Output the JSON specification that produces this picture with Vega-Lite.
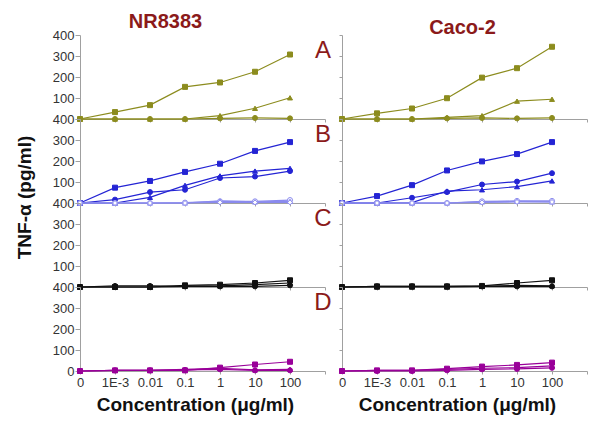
{
"$schema":"https://vega.github.io/schema/vega-lite/v6.json",
"padding":{"left":15,"top":12,"right":5,"bottom":5},
"background":"white",
"config":{"font":"Liberation Sans","view":{"stroke":null},
"axis":{"labelFont":"Liberation Sans","labelFontSize":13,"labelColor":"#333333","domainColor":"#a0a0a0","tickColor":"#a0a0a0","grid":false,"titleFont":"Liberation Sans","titleFontSize":19,"titleFontWeight":"bold","titleColor":"#111111","labelFlush":false,"labelOverlap":false}},
"data":{"values":[
{"cell":"NR8383","panel":"A","series":"1","i":0,"v":0},{"cell":"NR8383","panel":"A","series":"1","i":1,"v":33},{"cell":"NR8383","panel":"A","series":"1","i":2,"v":66},{"cell":"NR8383","panel":"A","series":"1","i":3,"v":153},{"cell":"NR8383","panel":"A","series":"1","i":4,"v":174},{"cell":"NR8383","panel":"A","series":"1","i":5,"v":225},{"cell":"NR8383","panel":"A","series":"1","i":6,"v":307},
{"cell":"NR8383","panel":"A","series":"2","i":0,"v":0},{"cell":"NR8383","panel":"A","series":"2","i":1,"v":0},{"cell":"NR8383","panel":"A","series":"2","i":2,"v":0},{"cell":"NR8383","panel":"A","series":"2","i":3,"v":0},{"cell":"NR8383","panel":"A","series":"2","i":4,"v":16},{"cell":"NR8383","panel":"A","series":"2","i":5,"v":51},{"cell":"NR8383","panel":"A","series":"2","i":6,"v":101},
{"cell":"NR8383","panel":"A","series":"3","i":0,"v":0},{"cell":"NR8383","panel":"A","series":"3","i":1,"v":0},{"cell":"NR8383","panel":"A","series":"3","i":2,"v":0},{"cell":"NR8383","panel":"A","series":"3","i":3,"v":0},{"cell":"NR8383","panel":"A","series":"3","i":4,"v":3},{"cell":"NR8383","panel":"A","series":"3","i":5,"v":5},{"cell":"NR8383","panel":"A","series":"3","i":6,"v":3},
{"cell":"NR8383","panel":"B","series":"1","i":0,"v":0},{"cell":"NR8383","panel":"B","series":"1","i":1,"v":73},{"cell":"NR8383","panel":"B","series":"1","i":2,"v":105},{"cell":"NR8383","panel":"B","series":"1","i":3,"v":148},{"cell":"NR8383","panel":"B","series":"1","i":4,"v":187},{"cell":"NR8383","panel":"B","series":"1","i":5,"v":248},{"cell":"NR8383","panel":"B","series":"1","i":6,"v":290},
{"cell":"NR8383","panel":"B","series":"2","i":0,"v":0},{"cell":"NR8383","panel":"B","series":"2","i":1,"v":0},{"cell":"NR8383","panel":"B","series":"2","i":2,"v":27},{"cell":"NR8383","panel":"B","series":"2","i":3,"v":84},{"cell":"NR8383","panel":"B","series":"2","i":4,"v":129},{"cell":"NR8383","panel":"B","series":"2","i":5,"v":152},{"cell":"NR8383","panel":"B","series":"2","i":6,"v":165},
{"cell":"NR8383","panel":"B","series":"3","i":0,"v":0},{"cell":"NR8383","panel":"B","series":"3","i":1,"v":16},{"cell":"NR8383","panel":"B","series":"3","i":2,"v":52},{"cell":"NR8383","panel":"B","series":"3","i":3,"v":63},{"cell":"NR8383","panel":"B","series":"3","i":4,"v":119},{"cell":"NR8383","panel":"B","series":"3","i":5,"v":126},{"cell":"NR8383","panel":"B","series":"3","i":6,"v":152},
{"cell":"NR8383","panel":"B","series":"4","i":0,"v":0},{"cell":"NR8383","panel":"B","series":"4","i":1,"v":0},{"cell":"NR8383","panel":"B","series":"4","i":2,"v":0},{"cell":"NR8383","panel":"B","series":"4","i":3,"v":2},{"cell":"NR8383","panel":"B","series":"4","i":4,"v":8},{"cell":"NR8383","panel":"B","series":"4","i":5,"v":8},{"cell":"NR8383","panel":"B","series":"4","i":6,"v":14},
{"cell":"NR8383","panel":"B","series":"5","i":0,"v":0},{"cell":"NR8383","panel":"B","series":"5","i":1,"v":0},{"cell":"NR8383","panel":"B","series":"5","i":2,"v":0},{"cell":"NR8383","panel":"B","series":"5","i":3,"v":0},{"cell":"NR8383","panel":"B","series":"5","i":4,"v":10},{"cell":"NR8383","panel":"B","series":"5","i":5,"v":5},{"cell":"NR8383","panel":"B","series":"5","i":6,"v":8},
{"cell":"NR8383","panel":"B","series":"6","i":0,"v":0},{"cell":"NR8383","panel":"B","series":"6","i":1,"v":0},{"cell":"NR8383","panel":"B","series":"6","i":2,"v":0},{"cell":"NR8383","panel":"B","series":"6","i":3,"v":0},{"cell":"NR8383","panel":"B","series":"6","i":4,"v":3},{"cell":"NR8383","panel":"B","series":"6","i":5,"v":3},{"cell":"NR8383","panel":"B","series":"6","i":6,"v":3},
{"cell":"NR8383","panel":"C","series":"1","i":0,"v":0},{"cell":"NR8383","panel":"C","series":"1","i":1,"v":0},{"cell":"NR8383","panel":"C","series":"1","i":2,"v":0},{"cell":"NR8383","panel":"C","series":"1","i":3,"v":8},{"cell":"NR8383","panel":"C","series":"1","i":4,"v":11},{"cell":"NR8383","panel":"C","series":"1","i":5,"v":19},{"cell":"NR8383","panel":"C","series":"1","i":6,"v":32},
{"cell":"NR8383","panel":"C","series":"2","i":0,"v":0},{"cell":"NR8383","panel":"C","series":"2","i":1,"v":0},{"cell":"NR8383","panel":"C","series":"2","i":2,"v":0},{"cell":"NR8383","panel":"C","series":"2","i":3,"v":3},{"cell":"NR8383","panel":"C","series":"2","i":4,"v":5},{"cell":"NR8383","panel":"C","series":"2","i":5,"v":11},{"cell":"NR8383","panel":"C","series":"2","i":6,"v":19},
{"cell":"NR8383","panel":"C","series":"3","i":0,"v":0},{"cell":"NR8383","panel":"C","series":"3","i":1,"v":5},{"cell":"NR8383","panel":"C","series":"3","i":2,"v":5},{"cell":"NR8383","panel":"C","series":"3","i":3,"v":3},{"cell":"NR8383","panel":"C","series":"3","i":4,"v":3},{"cell":"NR8383","panel":"C","series":"3","i":5,"v":3},{"cell":"NR8383","panel":"C","series":"3","i":6,"v":8},
{"cell":"NR8383","panel":"D","series":"1","i":0,"v":0},{"cell":"NR8383","panel":"D","series":"1","i":1,"v":3},{"cell":"NR8383","panel":"D","series":"1","i":2,"v":3},{"cell":"NR8383","panel":"D","series":"1","i":3,"v":3},{"cell":"NR8383","panel":"D","series":"1","i":4,"v":16},{"cell":"NR8383","panel":"D","series":"1","i":5,"v":31},{"cell":"NR8383","panel":"D","series":"1","i":6,"v":44},
{"cell":"NR8383","panel":"D","series":"2","i":0,"v":0},{"cell":"NR8383","panel":"D","series":"2","i":1,"v":3},{"cell":"NR8383","panel":"D","series":"2","i":2,"v":3},{"cell":"NR8383","panel":"D","series":"2","i":3,"v":8},{"cell":"NR8383","panel":"D","series":"2","i":4,"v":13},{"cell":"NR8383","panel":"D","series":"2","i":5,"v":5},{"cell":"NR8383","panel":"D","series":"2","i":6,"v":8},
{"cell":"NR8383","panel":"D","series":"3","i":0,"v":0},{"cell":"NR8383","panel":"D","series":"3","i":1,"v":3},{"cell":"NR8383","panel":"D","series":"3","i":2,"v":3},{"cell":"NR8383","panel":"D","series":"3","i":3,"v":5},{"cell":"NR8383","panel":"D","series":"3","i":4,"v":8},{"cell":"NR8383","panel":"D","series":"3","i":5,"v":3},{"cell":"NR8383","panel":"D","series":"3","i":6,"v":3},
{"cell":"Caco-2","panel":"A","series":"1","i":0,"v":0},{"cell":"Caco-2","panel":"A","series":"1","i":1,"v":27},{"cell":"Caco-2","panel":"A","series":"1","i":2,"v":50},{"cell":"Caco-2","panel":"A","series":"1","i":3,"v":99},{"cell":"Caco-2","panel":"A","series":"1","i":4,"v":197},{"cell":"Caco-2","panel":"A","series":"1","i":5,"v":242},{"cell":"Caco-2","panel":"A","series":"1","i":6,"v":344},
{"cell":"Caco-2","panel":"A","series":"2","i":0,"v":0},{"cell":"Caco-2","panel":"A","series":"2","i":1,"v":0},{"cell":"Caco-2","panel":"A","series":"2","i":2,"v":0},{"cell":"Caco-2","panel":"A","series":"2","i":3,"v":8},{"cell":"Caco-2","panel":"A","series":"2","i":4,"v":16},{"cell":"Caco-2","panel":"A","series":"2","i":5,"v":85},{"cell":"Caco-2","panel":"A","series":"2","i":6,"v":94},
{"cell":"Caco-2","panel":"A","series":"3","i":0,"v":0},{"cell":"Caco-2","panel":"A","series":"3","i":1,"v":0},{"cell":"Caco-2","panel":"A","series":"3","i":2,"v":0},{"cell":"Caco-2","panel":"A","series":"3","i":3,"v":3},{"cell":"Caco-2","panel":"A","series":"3","i":4,"v":5},{"cell":"Caco-2","panel":"A","series":"3","i":5,"v":3},{"cell":"Caco-2","panel":"A","series":"3","i":6,"v":5},
{"cell":"Caco-2","panel":"B","series":"1","i":0,"v":0},{"cell":"Caco-2","panel":"B","series":"1","i":1,"v":33},{"cell":"Caco-2","panel":"B","series":"1","i":2,"v":85},{"cell":"Caco-2","panel":"B","series":"1","i":3,"v":155},{"cell":"Caco-2","panel":"B","series":"1","i":4,"v":198},{"cell":"Caco-2","panel":"B","series":"1","i":5,"v":233},{"cell":"Caco-2","panel":"B","series":"1","i":6,"v":290},
{"cell":"Caco-2","panel":"B","series":"2","i":0,"v":0},{"cell":"Caco-2","panel":"B","series":"2","i":1,"v":0},{"cell":"Caco-2","panel":"B","series":"2","i":2,"v":2},{"cell":"Caco-2","panel":"B","series":"2","i":3,"v":57},{"cell":"Caco-2","panel":"B","series":"2","i":4,"v":63},{"cell":"Caco-2","panel":"B","series":"2","i":5,"v":78},{"cell":"Caco-2","panel":"B","series":"2","i":6,"v":105},
{"cell":"Caco-2","panel":"B","series":"3","i":0,"v":0},{"cell":"Caco-2","panel":"B","series":"3","i":1,"v":0},{"cell":"Caco-2","panel":"B","series":"3","i":2,"v":25},{"cell":"Caco-2","panel":"B","series":"3","i":3,"v":52},{"cell":"Caco-2","panel":"B","series":"3","i":4,"v":88},{"cell":"Caco-2","panel":"B","series":"3","i":5,"v":102},{"cell":"Caco-2","panel":"B","series":"3","i":6,"v":142},
{"cell":"Caco-2","panel":"B","series":"4","i":0,"v":0},{"cell":"Caco-2","panel":"B","series":"4","i":1,"v":0},{"cell":"Caco-2","panel":"B","series":"4","i":2,"v":0},{"cell":"Caco-2","panel":"B","series":"4","i":3,"v":0},{"cell":"Caco-2","panel":"B","series":"4","i":4,"v":8},{"cell":"Caco-2","panel":"B","series":"4","i":5,"v":10},{"cell":"Caco-2","panel":"B","series":"4","i":6,"v":10},
{"cell":"Caco-2","panel":"B","series":"5","i":0,"v":0},{"cell":"Caco-2","panel":"B","series":"5","i":1,"v":0},{"cell":"Caco-2","panel":"B","series":"5","i":2,"v":0},{"cell":"Caco-2","panel":"B","series":"5","i":3,"v":0},{"cell":"Caco-2","panel":"B","series":"5","i":4,"v":5},{"cell":"Caco-2","panel":"B","series":"5","i":5,"v":8},{"cell":"Caco-2","panel":"B","series":"5","i":6,"v":5},
{"cell":"Caco-2","panel":"B","series":"6","i":0,"v":0},{"cell":"Caco-2","panel":"B","series":"6","i":1,"v":0},{"cell":"Caco-2","panel":"B","series":"6","i":2,"v":0},{"cell":"Caco-2","panel":"B","series":"6","i":3,"v":0},{"cell":"Caco-2","panel":"B","series":"6","i":4,"v":3},{"cell":"Caco-2","panel":"B","series":"6","i":5,"v":5},{"cell":"Caco-2","panel":"B","series":"6","i":6,"v":5},
{"cell":"Caco-2","panel":"C","series":"1","i":0,"v":0},{"cell":"Caco-2","panel":"C","series":"1","i":1,"v":3},{"cell":"Caco-2","panel":"C","series":"1","i":2,"v":3},{"cell":"Caco-2","panel":"C","series":"1","i":3,"v":3},{"cell":"Caco-2","panel":"C","series":"1","i":4,"v":5},{"cell":"Caco-2","panel":"C","series":"1","i":5,"v":19},{"cell":"Caco-2","panel":"C","series":"1","i":6,"v":32},
{"cell":"Caco-2","panel":"C","series":"2","i":0,"v":0},{"cell":"Caco-2","panel":"C","series":"2","i":1,"v":0},{"cell":"Caco-2","panel":"C","series":"2","i":2,"v":0},{"cell":"Caco-2","panel":"C","series":"2","i":3,"v":0},{"cell":"Caco-2","panel":"C","series":"2","i":4,"v":3},{"cell":"Caco-2","panel":"C","series":"2","i":5,"v":8},{"cell":"Caco-2","panel":"C","series":"2","i":6,"v":6},
{"cell":"Caco-2","panel":"C","series":"3","i":0,"v":0},{"cell":"Caco-2","panel":"C","series":"3","i":1,"v":3},{"cell":"Caco-2","panel":"C","series":"3","i":2,"v":3},{"cell":"Caco-2","panel":"C","series":"3","i":3,"v":3},{"cell":"Caco-2","panel":"C","series":"3","i":4,"v":3},{"cell":"Caco-2","panel":"C","series":"3","i":5,"v":3},{"cell":"Caco-2","panel":"C","series":"3","i":6,"v":3},
{"cell":"Caco-2","panel":"D","series":"1","i":0,"v":0},{"cell":"Caco-2","panel":"D","series":"1","i":1,"v":3},{"cell":"Caco-2","panel":"D","series":"1","i":2,"v":3},{"cell":"Caco-2","panel":"D","series":"1","i":3,"v":11},{"cell":"Caco-2","panel":"D","series":"1","i":4,"v":21},{"cell":"Caco-2","panel":"D","series":"1","i":5,"v":29},{"cell":"Caco-2","panel":"D","series":"1","i":6,"v":40},
{"cell":"Caco-2","panel":"D","series":"2","i":0,"v":0},{"cell":"Caco-2","panel":"D","series":"2","i":1,"v":3},{"cell":"Caco-2","panel":"D","series":"2","i":2,"v":3},{"cell":"Caco-2","panel":"D","series":"2","i":3,"v":8},{"cell":"Caco-2","panel":"D","series":"2","i":4,"v":13},{"cell":"Caco-2","panel":"D","series":"2","i":5,"v":16},{"cell":"Caco-2","panel":"D","series":"2","i":6,"v":24},
{"cell":"Caco-2","panel":"D","series":"3","i":0,"v":0},{"cell":"Caco-2","panel":"D","series":"3","i":1,"v":0},{"cell":"Caco-2","panel":"D","series":"3","i":2,"v":0},{"cell":"Caco-2","panel":"D","series":"3","i":3,"v":3},{"cell":"Caco-2","panel":"D","series":"3","i":4,"v":8},{"cell":"Caco-2","panel":"D","series":"3","i":5,"v":10},{"cell":"Caco-2","panel":"D","series":"3","i":6,"v":15}
]},
"transform":[{"calculate":"datum.panel+datum.series","as":"key"}],
"spacing":5,
"hconcat":[
{"title":{"text":"NR8383","fontSize":20,"fontWeight":"bold","color":"#8b1a1a","anchor":"middle","dx":-8,"offset":-3},
 "bounds":"flush","spacing":0,
 "vconcat":[
  {"width":245,"height":84,"transform":[{"filter":"datum.cell==='NR8383' && datum.panel==='A'"}],
   "layer":[
    {"mark":{"type":"line","strokeWidth":1.2},"encoding":{"x":{"field":"i","type":"quantitative","scale":{"domain":[0,7],"nice":false,"zero":false},"axis":{"values":[0,1,2,3,4,5,6,7],"tickCount":10,"labelOverlap":false,"tickSize":3,"labels":false,"title":null}},"y":{"field":"v","type":"quantitative","scale":{"domain":[0,400],"nice":false},"axis":{"values":[0,100,200,300,400],"tickCount":10,"labelOverlap":false,"tickSize":5,"labelPadding":1,"title":null,"labelExpr":"datum.value==0 ? '' : datum.label"}},"color":{"field":"key","type":"nominal","legend":null,"scale":{"domain":["A1","A2","A3","B1","B2","B3","B4","B5","B6","C1","C2","C3","D1","D2","D3"],"range":["#8c8c1e","#8c8c1e","#8c8c1e","#2424d4","#2424d4","#2424d4","#8a8aee","#8a8aee","#8a8aee","#111111","#111111","#111111","#990099","#990099","#990099"]}}}},
    {"mark":{"type":"point","size":25,"opacity":1,"strokeWidth":1},"encoding":{"x":{"field":"i","type":"quantitative"},"y":{"field":"v","type":"quantitative"},"shape":{"field":"series","type":"nominal","legend":null,"scale":{"domain":["1","2","3","4","5","6"],"range":["square","triangle-up","circle","circle","triangle-up","diamond"]}},"fill":{"field":"key","type":"nominal","legend":null,"scale":{"domain":["A1","A2","A3","B1","B2","B3","B4","B5","B6","C1","C2","C3","D1","D2","D3"],"range":["#8c8c1e","#8c8c1e","#8c8c1e","#2424d4","#2424d4","#2424d4","#ffffff","#ffffff","#ffffff","#111111","#111111","#111111","#990099","#990099","#990099"]}},"stroke":{"field":"key","type":"nominal","legend":null,"scale":{"domain":["A1","A2","A3","B1","B2","B3","B4","B5","B6","C1","C2","C3","D1","D2","D3"],"range":["#8c8c1e","#8c8c1e","#8c8c1e","#2424d4","#2424d4","#2424d4","#8a8aee","#8a8aee","#8a8aee","#111111","#111111","#111111","#990099","#990099","#990099"]}}}},
    {"transform":[{"aggregate":[{"op":"count","as":"n"}],"groupby":["panel"]}],"mark":{"type":"text","fontSize":24,"color":"#8b1a1a","align":"center","baseline":"middle","font":"Liberation Sans"},"encoding":{"x":{"datum":6.94},"y":{"datum":325},"text":{"field":"panel"}}}
   ]},
  {"width":245,"height":84,"transform":[{"filter":"datum.cell==='NR8383' && datum.panel==='B'"}],
   "layer":[
    {"mark":{"type":"line","strokeWidth":1.2},"encoding":{"x":{"field":"i","type":"quantitative","scale":{"domain":[0,7],"nice":false,"zero":false},"axis":{"values":[0,1,2,3,4,5,6,7],"tickCount":10,"labelOverlap":false,"tickSize":3,"labels":false,"title":null}},"y":{"field":"v","type":"quantitative","scale":{"domain":[0,400],"nice":false},"axis":{"values":[0,100,200,300,400],"tickCount":10,"labelOverlap":false,"tickSize":5,"labelPadding":1,"labelExpr":"datum.value==0 ? '' : datum.label","title":"TNF-α (pg/ml)","titleY":78,"titlePadding":18}},"color":{"field":"key","type":"nominal","legend":null,"scale":{"domain":["A1","A2","A3","B1","B2","B3","B4","B5","B6","C1","C2","C3","D1","D2","D3"],"range":["#8c8c1e","#8c8c1e","#8c8c1e","#2424d4","#2424d4","#2424d4","#8a8aee","#8a8aee","#8a8aee","#111111","#111111","#111111","#990099","#990099","#990099"]}}}},
    {"mark":{"type":"point","size":25,"opacity":1,"strokeWidth":1},"encoding":{"x":{"field":"i","type":"quantitative"},"y":{"field":"v","type":"quantitative"},"shape":{"field":"series","type":"nominal","legend":null,"scale":{"domain":["1","2","3","4","5","6"],"range":["square","triangle-up","circle","circle","triangle-up","diamond"]}},"fill":{"field":"key","type":"nominal","legend":null,"scale":{"domain":["A1","A2","A3","B1","B2","B3","B4","B5","B6","C1","C2","C3","D1","D2","D3"],"range":["#8c8c1e","#8c8c1e","#8c8c1e","#2424d4","#2424d4","#2424d4","#ffffff","#ffffff","#ffffff","#111111","#111111","#111111","#990099","#990099","#990099"]}},"stroke":{"field":"key","type":"nominal","legend":null,"scale":{"domain":["A1","A2","A3","B1","B2","B3","B4","B5","B6","C1","C2","C3","D1","D2","D3"],"range":["#8c8c1e","#8c8c1e","#8c8c1e","#2424d4","#2424d4","#2424d4","#8a8aee","#8a8aee","#8a8aee","#111111","#111111","#111111","#990099","#990099","#990099"]}}}},
    {"transform":[{"aggregate":[{"op":"count","as":"n"}],"groupby":["panel"]}],"mark":{"type":"text","fontSize":24,"color":"#8b1a1a","align":"center","baseline":"middle","font":"Liberation Sans"},"encoding":{"x":{"datum":6.94},"y":{"datum":325},"text":{"field":"panel"}}}
   ]},
  {"width":245,"height":84,"transform":[{"filter":"datum.cell==='NR8383' && datum.panel==='C'"}],
   "layer":[
    {"mark":{"type":"line","strokeWidth":1.2},"encoding":{"x":{"field":"i","type":"quantitative","scale":{"domain":[0,7],"nice":false,"zero":false},"axis":{"values":[0,1,2,3,4,5,6,7],"tickCount":10,"labelOverlap":false,"tickSize":3,"labels":false,"title":null}},"y":{"field":"v","type":"quantitative","scale":{"domain":[0,400],"nice":false},"axis":{"values":[0,100,200,300,400],"tickCount":10,"labelOverlap":false,"tickSize":5,"labelPadding":1,"title":null,"labelExpr":"datum.value==0 ? '' : datum.label"}},"color":{"field":"key","type":"nominal","legend":null,"scale":{"domain":["A1","A2","A3","B1","B2","B3","B4","B5","B6","C1","C2","C3","D1","D2","D3"],"range":["#8c8c1e","#8c8c1e","#8c8c1e","#2424d4","#2424d4","#2424d4","#8a8aee","#8a8aee","#8a8aee","#111111","#111111","#111111","#990099","#990099","#990099"]}}}},
    {"mark":{"type":"point","size":25,"opacity":1,"strokeWidth":1},"encoding":{"x":{"field":"i","type":"quantitative"},"y":{"field":"v","type":"quantitative"},"shape":{"field":"series","type":"nominal","legend":null,"scale":{"domain":["1","2","3","4","5","6"],"range":["square","triangle-up","circle","circle","triangle-up","diamond"]}},"fill":{"field":"key","type":"nominal","legend":null,"scale":{"domain":["A1","A2","A3","B1","B2","B3","B4","B5","B6","C1","C2","C3","D1","D2","D3"],"range":["#8c8c1e","#8c8c1e","#8c8c1e","#2424d4","#2424d4","#2424d4","#ffffff","#ffffff","#ffffff","#111111","#111111","#111111","#990099","#990099","#990099"]}},"stroke":{"field":"key","type":"nominal","legend":null,"scale":{"domain":["A1","A2","A3","B1","B2","B3","B4","B5","B6","C1","C2","C3","D1","D2","D3"],"range":["#8c8c1e","#8c8c1e","#8c8c1e","#2424d4","#2424d4","#2424d4","#8a8aee","#8a8aee","#8a8aee","#111111","#111111","#111111","#990099","#990099","#990099"]}}}},
    {"transform":[{"aggregate":[{"op":"count","as":"n"}],"groupby":["panel"]}],"mark":{"type":"text","fontSize":24,"color":"#8b1a1a","align":"center","baseline":"middle","font":"Liberation Sans"},"encoding":{"x":{"datum":6.94},"y":{"datum":325},"text":{"field":"panel"}}}
   ]},
  {"width":245,"height":84,"transform":[{"filter":"datum.cell==='NR8383' && datum.panel==='D'"}],
   "layer":[
    {"mark":{"type":"line","strokeWidth":1.2},"encoding":{"x":{"field":"i","type":"quantitative","scale":{"domain":[0,7],"nice":false,"zero":false},"axis":{"values":[0,1,2,3,4,5,6,7],"tickCount":10,"labelOverlap":false,"tickSize":3,"labelPadding":2,"labelExpr":"['0','1E-3','0.01','0.1','1','10','100',''][datum.value]","title":"Concentration (μg/ml)","titleX":115,"titlePadding":6}},"y":{"field":"v","type":"quantitative","scale":{"domain":[0,400],"nice":false},"axis":{"values":[0,100,200,300,400],"tickCount":10,"labelOverlap":false,"tickSize":5,"labelPadding":1,"title":null}},"color":{"field":"key","type":"nominal","legend":null,"scale":{"domain":["A1","A2","A3","B1","B2","B3","B4","B5","B6","C1","C2","C3","D1","D2","D3"],"range":["#8c8c1e","#8c8c1e","#8c8c1e","#2424d4","#2424d4","#2424d4","#8a8aee","#8a8aee","#8a8aee","#111111","#111111","#111111","#990099","#990099","#990099"]}}}},
    {"mark":{"type":"point","size":25,"opacity":1,"strokeWidth":1},"encoding":{"x":{"field":"i","type":"quantitative"},"y":{"field":"v","type":"quantitative"},"shape":{"field":"series","type":"nominal","legend":null,"scale":{"domain":["1","2","3","4","5","6"],"range":["square","triangle-up","circle","circle","triangle-up","diamond"]}},"fill":{"field":"key","type":"nominal","legend":null,"scale":{"domain":["A1","A2","A3","B1","B2","B3","B4","B5","B6","C1","C2","C3","D1","D2","D3"],"range":["#8c8c1e","#8c8c1e","#8c8c1e","#2424d4","#2424d4","#2424d4","#ffffff","#ffffff","#ffffff","#111111","#111111","#111111","#990099","#990099","#990099"]}},"stroke":{"field":"key","type":"nominal","legend":null,"scale":{"domain":["A1","A2","A3","B1","B2","B3","B4","B5","B6","C1","C2","C3","D1","D2","D3"],"range":["#8c8c1e","#8c8c1e","#8c8c1e","#2424d4","#2424d4","#2424d4","#8a8aee","#8a8aee","#8a8aee","#111111","#111111","#111111","#990099","#990099","#990099"]}}}},
    {"transform":[{"aggregate":[{"op":"count","as":"n"}],"groupby":["panel"]}],"mark":{"type":"text","fontSize":24,"color":"#8b1a1a","align":"center","baseline":"middle","font":"Liberation Sans"},"encoding":{"x":{"datum":6.94},"y":{"datum":325},"text":{"field":"panel"}}}
   ]}
 ]},
{"title":{"text":"Caco-2","fontSize":20,"fontWeight":"bold","color":"#8b1a1a","anchor":"middle","offset":-3},
 "bounds":"flush","spacing":0,
 "vconcat":[
  {"width":245,"height":84,"transform":[{"filter":"datum.cell==='Caco-2' && datum.panel==='A'"}],
   "layer":[
    {"mark":{"type":"line","strokeWidth":1.2},"encoding":{"x":{"field":"i","type":"quantitative","scale":{"domain":[0,7],"nice":false,"zero":false},"axis":{"values":[0,1,2,3,4,5,6,7],"tickCount":10,"labelOverlap":false,"tickSize":3,"labels":false,"title":null}},"y":{"field":"v","type":"quantitative","scale":{"domain":[0,400],"nice":false},"axis":{"values":[0,100,200,300,400],"tickCount":10,"tickSize":3,"labels":false,"title":null}},"color":{"field":"key","type":"nominal","legend":null,"scale":{"domain":["A1","A2","A3","B1","B2","B3","B4","B5","B6","C1","C2","C3","D1","D2","D3"],"range":["#8c8c1e","#8c8c1e","#8c8c1e","#2424d4","#2424d4","#2424d4","#8a8aee","#8a8aee","#8a8aee","#111111","#111111","#111111","#990099","#990099","#990099"]}}}},
    {"mark":{"type":"point","size":25,"opacity":1,"strokeWidth":1},"encoding":{"x":{"field":"i","type":"quantitative"},"y":{"field":"v","type":"quantitative"},"shape":{"field":"series","type":"nominal","legend":null,"scale":{"domain":["1","2","3","4","5","6"],"range":["square","triangle-up","circle","circle","triangle-up","diamond"]}},"fill":{"field":"key","type":"nominal","legend":null,"scale":{"domain":["A1","A2","A3","B1","B2","B3","B4","B5","B6","C1","C2","C3","D1","D2","D3"],"range":["#8c8c1e","#8c8c1e","#8c8c1e","#2424d4","#2424d4","#2424d4","#ffffff","#ffffff","#ffffff","#111111","#111111","#111111","#990099","#990099","#990099"]}},"stroke":{"field":"key","type":"nominal","legend":null,"scale":{"domain":["A1","A2","A3","B1","B2","B3","B4","B5","B6","C1","C2","C3","D1","D2","D3"],"range":["#8c8c1e","#8c8c1e","#8c8c1e","#2424d4","#2424d4","#2424d4","#8a8aee","#8a8aee","#8a8aee","#111111","#111111","#111111","#990099","#990099","#990099"]}}}}
   ]},
  {"width":245,"height":84,"transform":[{"filter":"datum.cell==='Caco-2' && datum.panel==='B'"}],
   "layer":[
    {"mark":{"type":"line","strokeWidth":1.2},"encoding":{"x":{"field":"i","type":"quantitative","scale":{"domain":[0,7],"nice":false,"zero":false},"axis":{"values":[0,1,2,3,4,5,6,7],"tickCount":10,"labelOverlap":false,"tickSize":3,"labels":false,"title":null}},"y":{"field":"v","type":"quantitative","scale":{"domain":[0,400],"nice":false},"axis":{"values":[0,100,200,300,400],"tickCount":10,"tickSize":3,"labels":false,"title":null}},"color":{"field":"key","type":"nominal","legend":null,"scale":{"domain":["A1","A2","A3","B1","B2","B3","B4","B5","B6","C1","C2","C3","D1","D2","D3"],"range":["#8c8c1e","#8c8c1e","#8c8c1e","#2424d4","#2424d4","#2424d4","#8a8aee","#8a8aee","#8a8aee","#111111","#111111","#111111","#990099","#990099","#990099"]}}}},
    {"mark":{"type":"point","size":25,"opacity":1,"strokeWidth":1},"encoding":{"x":{"field":"i","type":"quantitative"},"y":{"field":"v","type":"quantitative"},"shape":{"field":"series","type":"nominal","legend":null,"scale":{"domain":["1","2","3","4","5","6"],"range":["square","triangle-up","circle","circle","triangle-up","diamond"]}},"fill":{"field":"key","type":"nominal","legend":null,"scale":{"domain":["A1","A2","A3","B1","B2","B3","B4","B5","B6","C1","C2","C3","D1","D2","D3"],"range":["#8c8c1e","#8c8c1e","#8c8c1e","#2424d4","#2424d4","#2424d4","#ffffff","#ffffff","#ffffff","#111111","#111111","#111111","#990099","#990099","#990099"]}},"stroke":{"field":"key","type":"nominal","legend":null,"scale":{"domain":["A1","A2","A3","B1","B2","B3","B4","B5","B6","C1","C2","C3","D1","D2","D3"],"range":["#8c8c1e","#8c8c1e","#8c8c1e","#2424d4","#2424d4","#2424d4","#8a8aee","#8a8aee","#8a8aee","#111111","#111111","#111111","#990099","#990099","#990099"]}}}}
   ]},
  {"width":245,"height":84,"transform":[{"filter":"datum.cell==='Caco-2' && datum.panel==='C'"}],
   "layer":[
    {"mark":{"type":"line","strokeWidth":1.2},"encoding":{"x":{"field":"i","type":"quantitative","scale":{"domain":[0,7],"nice":false,"zero":false},"axis":{"values":[0,1,2,3,4,5,6,7],"tickCount":10,"labelOverlap":false,"tickSize":3,"labels":false,"title":null}},"y":{"field":"v","type":"quantitative","scale":{"domain":[0,400],"nice":false},"axis":{"values":[0,100,200,300,400],"tickCount":10,"tickSize":3,"labels":false,"title":null}},"color":{"field":"key","type":"nominal","legend":null,"scale":{"domain":["A1","A2","A3","B1","B2","B3","B4","B5","B6","C1","C2","C3","D1","D2","D3"],"range":["#8c8c1e","#8c8c1e","#8c8c1e","#2424d4","#2424d4","#2424d4","#8a8aee","#8a8aee","#8a8aee","#111111","#111111","#111111","#990099","#990099","#990099"]}}}},
    {"mark":{"type":"point","size":25,"opacity":1,"strokeWidth":1},"encoding":{"x":{"field":"i","type":"quantitative"},"y":{"field":"v","type":"quantitative"},"shape":{"field":"series","type":"nominal","legend":null,"scale":{"domain":["1","2","3","4","5","6"],"range":["square","triangle-up","circle","circle","triangle-up","diamond"]}},"fill":{"field":"key","type":"nominal","legend":null,"scale":{"domain":["A1","A2","A3","B1","B2","B3","B4","B5","B6","C1","C2","C3","D1","D2","D3"],"range":["#8c8c1e","#8c8c1e","#8c8c1e","#2424d4","#2424d4","#2424d4","#ffffff","#ffffff","#ffffff","#111111","#111111","#111111","#990099","#990099","#990099"]}},"stroke":{"field":"key","type":"nominal","legend":null,"scale":{"domain":["A1","A2","A3","B1","B2","B3","B4","B5","B6","C1","C2","C3","D1","D2","D3"],"range":["#8c8c1e","#8c8c1e","#8c8c1e","#2424d4","#2424d4","#2424d4","#8a8aee","#8a8aee","#8a8aee","#111111","#111111","#111111","#990099","#990099","#990099"]}}}}
   ]},
  {"width":245,"height":84,"transform":[{"filter":"datum.cell==='Caco-2' && datum.panel==='D'"}],
   "layer":[
    {"mark":{"type":"line","strokeWidth":1.2},"encoding":{"x":{"field":"i","type":"quantitative","scale":{"domain":[0,7],"nice":false,"zero":false},"axis":{"values":[0,1,2,3,4,5,6,7],"tickCount":10,"labelOverlap":false,"tickSize":3,"labelPadding":2,"labelExpr":"['0','1E-3','0.01','0.1','1','10','100',''][datum.value]","title":"Concentration (μg/ml)","titleX":115,"titlePadding":6}},"y":{"field":"v","type":"quantitative","scale":{"domain":[0,400],"nice":false},"axis":{"values":[0,100,200,300,400],"tickCount":10,"tickSize":3,"labels":false,"title":null}},"color":{"field":"key","type":"nominal","legend":null,"scale":{"domain":["A1","A2","A3","B1","B2","B3","B4","B5","B6","C1","C2","C3","D1","D2","D3"],"range":["#8c8c1e","#8c8c1e","#8c8c1e","#2424d4","#2424d4","#2424d4","#8a8aee","#8a8aee","#8a8aee","#111111","#111111","#111111","#990099","#990099","#990099"]}}}},
    {"mark":{"type":"point","size":25,"opacity":1,"strokeWidth":1},"encoding":{"x":{"field":"i","type":"quantitative"},"y":{"field":"v","type":"quantitative"},"shape":{"field":"series","type":"nominal","legend":null,"scale":{"domain":["1","2","3","4","5","6"],"range":["square","triangle-up","circle","circle","triangle-up","diamond"]}},"fill":{"field":"key","type":"nominal","legend":null,"scale":{"domain":["A1","A2","A3","B1","B2","B3","B4","B5","B6","C1","C2","C3","D1","D2","D3"],"range":["#8c8c1e","#8c8c1e","#8c8c1e","#2424d4","#2424d4","#2424d4","#ffffff","#ffffff","#ffffff","#111111","#111111","#111111","#990099","#990099","#990099"]}},"stroke":{"field":"key","type":"nominal","legend":null,"scale":{"domain":["A1","A2","A3","B1","B2","B3","B4","B5","B6","C1","C2","C3","D1","D2","D3"],"range":["#8c8c1e","#8c8c1e","#8c8c1e","#2424d4","#2424d4","#2424d4","#8a8aee","#8a8aee","#8a8aee","#111111","#111111","#111111","#990099","#990099","#990099"]}}}}
   ]}
 ]}
]
}
